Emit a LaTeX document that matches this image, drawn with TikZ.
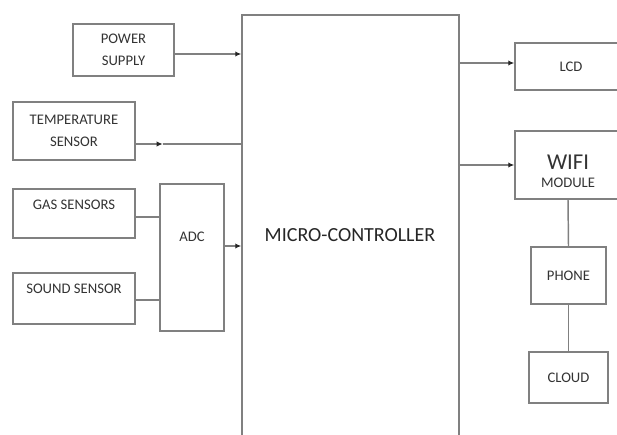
\documentclass[tikz,border=0pt]{standalone}
\usepackage{fontspec}
\setmainfont{Carlito}
\usetikzlibrary{positioning,calc,arrows.meta}
\newlength\pxu
\setlength\pxu{0.75pt}
\definecolor{linegray}{HTML}{808080}
\definecolor{txtgray}{HTML}{333333}
\tikzset{
  box/.style={draw=linegray,line width=1.1pt,inner sep=0pt,align=center,text=txtgray},
  lbl/.style={inner sep=0pt,align=center,text=txtgray},
  wire/.style={draw=linegray,line width=1.1pt},
  arr/.style={wire,-{Latex[length=4.5pt,width=4pt,color=black!85]}},
}
\begin{document}
\begin{tikzpicture}[x=0.75pt,y=-0.75pt,font=\fontsize{11}{16.5}\selectfont]
\useasboundingbox (0,0) rectangle (617,435);
\clip (0,0) rectangle (617,435);
% inputs
\node[box,minimum width=101\pxu,minimum height=52\pxu] (power) at (123.5,50) {POWER\\SUPPLY};
\node[box,minimum width=122\pxu,minimum height=58\pxu] (temp) at (74,131) {TEMPERATURE\\SENSOR};
\node[box,minimum width=122\pxu,minimum height=49\pxu] (gas) at (74,213.5) {};
\node[lbl] at (74,205) {GAS SENSORS};
\node[box,minimum width=122\pxu,minimum height=51\pxu] (sound) at (74,298.5) {};
\node[lbl] at (74,289) {SOUND SENSOR};
\node[box,minimum width=64\pxu,minimum height=147\pxu] (adc) at (192,257.5) {};
\node[lbl] at (192,237) {ADC};
% controller (runs off the bottom edge)
\node[box,minimum width=217\pxu,minimum height=430\pxu] (mc) at (350.5,230) {};
\node[lbl,font=\fontsize{15}{18}\selectfont,text=black!85] at (350,235) {MICRO-CONTROLLER};
% outputs
\node[box,minimum width=112\pxu,minimum height=47\pxu] (lcd) at (571,66.5) {LCD};
\node[box,minimum width=106\pxu,minimum height=68\pxu] (wifi) at (568,165) {};
\node[lbl,font=\fontsize{17}{20}\selectfont] at (568,162) {WIFI};
\node[lbl] at (568,183) {MODULE};
\node[box,minimum width=75\pxu,minimum height=57\pxu] (phone) at (568.5,275.5) {PHONE};
\node[box,minimum width=79\pxu,minimum height=51\pxu] (cloud) at (568.5,377.5) {CLOUD};
% connectors
\coordinate (pwout) at ($(power.east)+(0,4)$);
\draw[arr] (pwout) -- (pwout -| mc.west);
\coordinate (tpout) at ($(temp.east)+(0,13)$);
\coordinate (tptip) at ($(tpout)+(27,0)$);
\draw[arr] (tpout) -- (tptip);
\draw[wire] (tptip) -- (tpout -| mc.west);
\coordinate (gsout) at ($(gas.east)+(0,3.5)$);
\draw[wire] (gsout) -- (gsout -| adc.west);
\coordinate (sdout) at ($(sound.east)+(0,1.5)$);
\draw[wire] (sdout) -- (sdout -| adc.west);
\coordinate (adout) at ($(adc.east)+(0,-11.5)$);
\draw[arr] (adout) -- (adout -| mc.west);
\coordinate (lcdin) at ($(lcd.west)+(0,-3.5)$);
\draw[arr] (lcdin -| mc.east) -- (lcdin);
\draw[arr] (mc.east |- wifi.west) -- (wifi.west);
\draw[wire] (wifi.south) -- (phone.north);
\draw[wire] (phone.south) -- (cloud.north);
\end{tikzpicture}
\end{document}
